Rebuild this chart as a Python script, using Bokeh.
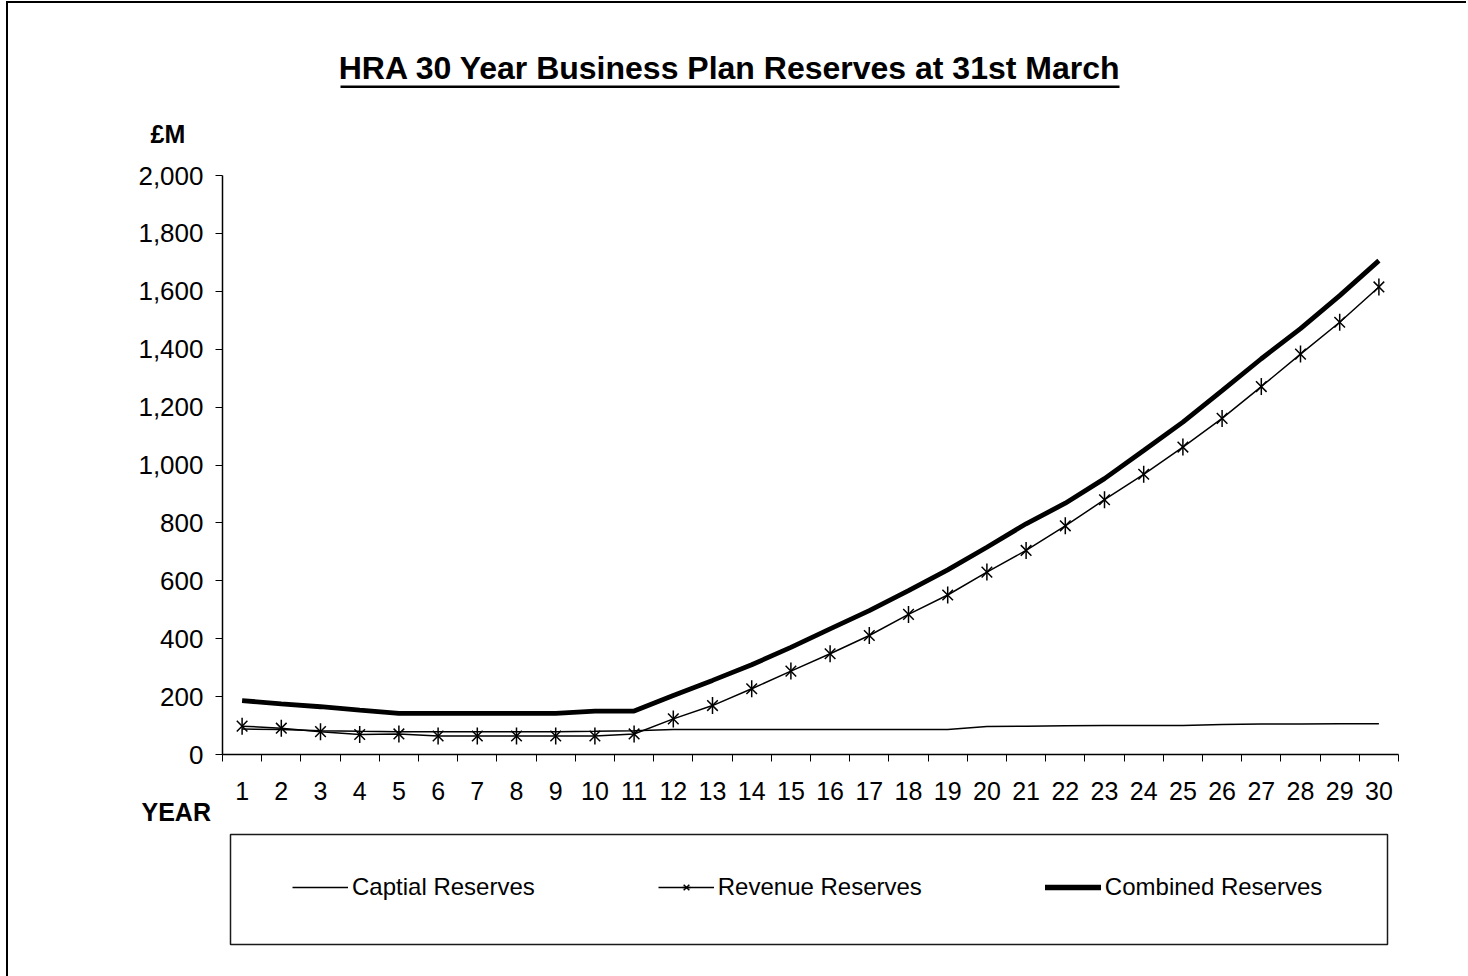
import math
from bokeh.plotting import figure
from bokeh.layouts import column
from bokeh.models import (Range1d, FixedTicker, NumeralTickFormatter, BoxAnnotation,
                          Legend, LegendItem, Title)
from bokeh.core.properties import value
from bokeh.embed import file_html
from bokeh.resources import INLINE

# ---- data ----
years = list(range(1, 31))
capital = [88, 86, 82, 80, 79, 79, 79, 79, 79, 80, 82, 86, 86, 86, 86, 86, 86, 86, 86,
           97, 98, 99, 100, 100, 100, 104, 105, 105, 106, 106]
revenue = [98, 91, 79, 69, 71, 64, 64, 64, 64, 64, 71, 123, 169, 227, 288, 348, 411, 484,
           551, 630, 705, 790, 880, 968, 1062, 1161, 1271, 1383, 1493, 1615]
combined = [186, 175, 165, 153, 142, 142, 142, 142, 142, 150, 150, 204, 256, 310, 370, 434,
            497, 566, 638, 716, 797, 868, 953, 1050, 1148, 1257, 1367, 1471, 1585, 1706]
y_ticks = list(range(0, 2001, 200))
series_names = ["Captial Reserves", "Revenue Reserves", "Combined Reserves"]
title_text = "HRA 30 Year Business Plan Reserves at 31st March"
y_unit = "£M"
x_title = "YEAR"

FONT = "Liberation Sans"
PAGE_W = 1468
MARGIN_L = 6
OFF_X = MARGIN_L + 2           # page x of each canvas' left edge
FIG_W = PAGE_W - OFF_X
FRAME_L, FRAME_R = 222, 1398   # chart frame, page pixels
FRAME_T, FRAME_B = 175, 754
TOP_Y0, TOP_Y1 = 3, 88         # top strip canvas (page y), below 1px margin + 2px border
MID_Y0, MID_Y1 = 88, 830       # chart canvas
BOT_Y0, BOT_Y1 = 830, 976      # legend strip canvas

LEFT_BORDER = {"margin-left": "%dpx" % MARGIN_L, "border-left": "2px solid black"}


def deco_fig(y0, y1, height, styles):
    f = figure(width=FIG_W, height=height, output_backend="svg", toolbar_location=None,
               title=None, x_range=Range1d(FRAME_L, FRAME_R), y_range=Range1d(y1, y0),
               x_axis_type=None, y_axis_type=None,
               min_border_left=FRAME_L - OFF_X, min_border_right=PAGE_W - FRAME_R,
               min_border_top=0, min_border_bottom=0)
    f.outline_line_color = None
    f.grid.visible = False
    f.background_fill_color = "white"
    f.border_fill_color = "white"
    f.styles = styles
    return f


# ---- top strip: underlined title (element = 2px border + canvas) ----
top = deco_fig(TOP_Y0, TOP_Y1, TOP_Y1 - TOP_Y0 + 2,
               dict(LEFT_BORDER, **{"margin-top": "1px", "border-top": "2px solid black"}))
top.text(x=[729.5], y=[66.5], text=[title_text], text_font=value(FONT),
         text_font_style="bold", text_font_size="32px", text_align="center",
         text_baseline="middle", text_color="black")
top.quad(left=[340], right=[1119], top=[83], bottom=[86.5], fill_color="black",
         line_color=None)

# ---- chart ----
H_MID = MID_Y1 - MID_Y0
p = figure(width=FIG_W, height=H_MID, output_backend="svg", toolbar_location=None,
           title=None, x_range=Range1d(0.5, 30.5), y_range=Range1d(0, 2000),
           min_border_left=FRAME_L - OFF_X, min_border_right=PAGE_W - FRAME_R,
           min_border_top=FRAME_T - MID_Y0, min_border_bottom=MID_Y1 - FRAME_B)
p.styles = dict(LEFT_BORDER)
p.outline_line_color = None
p.grid.visible = False
p.background_fill_color = "white"
p.border_fill_color = "white"

xa = p.xaxis[0]
xa.ticker = FixedTicker(ticks=years, minor_ticks=[y - 0.5 for y in years] + [30.5])
xa.major_tick_line_color = None
xa.major_tick_out = 0
xa.major_tick_in = 0
xa.minor_tick_out = 7
xa.minor_tick_in = 0
xa.minor_tick_line_color = "black"
xa.minor_tick_line_width = 1
xa.axis_line_color = "black"
xa.axis_line_width = 1.5
xa.major_label_standoff = 20
xa.major_label_text_font = FONT
xa.major_label_text_font_size = "25px"
xa.major_label_text_color = "black"

ya = p.yaxis[0]
ya.ticker = FixedTicker(ticks=y_ticks)
ya.formatter = NumeralTickFormatter(format="0,0")
ya.major_tick_out = 7
ya.major_tick_in = 0
ya.minor_tick_line_color = None
ya.major_tick_line_color = "black"
ya.axis_line_color = "black"
ya.axis_line_width = 1.5
ya.major_label_standoff = 12
ya.major_label_text_font = FONT
ya.major_label_text_font_size = "26px"
ya.major_label_text_color = "black"

# unit label above the y axis, axis name below-left of the x axis
p.add_layout(Title(text=y_unit, align="left", offset=-72, standoff=56,
                   vertical_align="bottom", text_font=FONT, text_font_style="bold",
                   text_font_size="25px", text_color="black"), "above")
try:
    year_title = Title(text=x_title, align="left", offset=-81, standoff=-9,
                       vertical_align="top", text_font=FONT, text_font_style="bold",
                       text_font_size="25px", text_color="black")
except Exception:
    year_title = Title(text=x_title, align="left", offset=-81, standoff=0,
                       vertical_align="top", text_font=FONT, text_font_style="bold",
                       text_font_size="25px", text_color="black")
p.add_layout(year_title, "below")

p.line(years, capital, line_color="black", line_width=1.5)
p.line(years, revenue, line_color="black", line_width=1.5)
p.scatter(years, revenue, marker="x", size=15, line_color="black", line_width=1.5)
p.scatter(years, revenue, marker="dash", size=17, angle=math.pi / 2,
          line_color="black", line_width=1.5)
p.line(years, combined, line_color="black", line_width=4.8)

# ---- bottom strip: legend ----
bot = deco_fig(BOT_Y0, BOT_Y1, BOT_Y1 - BOT_Y0, dict(LEFT_BORDER))
bot.add_layout(BoxAnnotation(left=230, right=1387, top=834, bottom=944, fill_alpha=0,
                             line_color="#1a1a1a", line_alpha=1, line_width=1.5))
# legend sample renderers (kept off-canvas; only their styles are shown in the legend)
off_x, off_y = [0, 10], [0, 0]
l1 = bot.line(off_x, off_y, line_color="black", line_width=1.5)
l2 = bot.line(off_x, off_y, line_color="black", line_width=1.5)
l2x = bot.scatter(off_x, off_y, marker="x", size=13, line_color="black", line_width=1.5)
l2d = bot.scatter(off_x, off_y, marker="dash", size=15, angle=math.pi / 2,
                  line_color="black", line_width=1.5)
l3 = bot.line(off_x, off_y, line_color="black", line_width=5.5, line_cap="round")
legend = Legend(items=[LegendItem(label=series_names[0], renderers=[l1]),
                       LegendItem(label=series_names[1], renderers=[l2, l2x, l2d]),
                       LegendItem(label=series_names[2], renderers=[l3])],
                orientation="horizontal", location=(292 - FRAME_L, BOT_Y1 - 901),
                padding=0, margin=0, spacing=123, glyph_width=56, glyph_height=20,
                label_standoff=4, label_height=24, label_text_font=FONT,
                label_text_font_size="24px", label_text_color="black",
                border_line_color=None, background_fill_alpha=0)
bot.add_layout(legend)

layout = column(top, p, bot)
open("out.html", "w").write(file_html(layout, INLINE))
